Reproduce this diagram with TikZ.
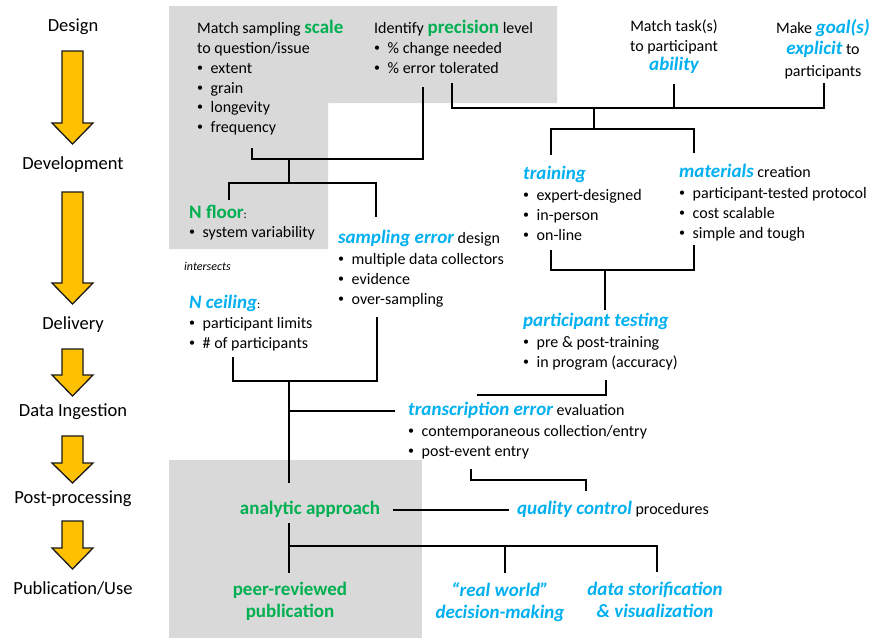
\documentclass[tikz,border=0pt]{standalone}
\usepackage{fontspec}
\setmainfont{Carlito}
\usepackage{xcolor}
\usepackage{graphicx}
\usepackage{tikz}
\usetikzlibrary{positioning,calc}

\definecolor{leafgreen}{HTML}{00B050}
\definecolor{skyblue}{HTML}{00B0F0}
\definecolor{panelgray}{HTML}{D9D9D9}
\definecolor{arrowgold}{HTML}{FFC000}

\newcommand{\keyg}[1]{\textcolor{leafgreen}{\fontsize{19}{19.5}\selectfont\bfseries #1}}
\newcommand{\keyb}[1]{\textcolor{skyblue}{\fontsize{19}{19.5}\selectfont\bfseries\itshape #1}}
\newcommand{\itm}{\makebox[13.5pt][l]{\raisebox{0.12em}{\scalebox{0.75}{\textbullet}}}}

\begin{document}
\begin{tikzpicture}[x=1pt, y=-1pt]
    \tikzstyle{stage} = [font=\fontsize{18.5}{22}\selectfont, anchor=base, inner sep=0pt]
    \tikzstyle{head} = [font=\fontsize{16}{19.5}\selectfont, anchor=base west, inner sep=0pt, text height=12pt, text depth=4pt]
    \tikzstyle{items} = [font=\fontsize{16}{19.8}\selectfont, align=left, inner sep=0pt, execute at begin node=\strut]
    \tikzstyle{ctr} = [font=\fontsize{16}{19.5}\selectfont, align=center, anchor=north, inner sep=0pt, execute at begin node=\strut]
    \tikzstyle{link} = [line width=1.5pt]
    \tikzstyle{stagearrow} = [draw=black!90, fill=arrowgold, line width=1.3pt, line join=miter]

    \fill[white] (0,0) rectangle (873,638);
    \useasboundingbox (0,0) rectangle (873,638);

    % gray panels
    \fill[panelgray] (169,6) -- (557,6) -- (557,103) -- (328,103) -- (328,249) -- (169,249) -- cycle;
    \fill[panelgray] (169,460) rectangle (422,638);

    % stages
    \node [stage] (design) at (73,31) {Design};
    \node [stage] (development) at (73,169) {Development};
    \node [stage] (delivery) at (73,329) {Delivery};
    \node [stage] (ingestion) at (73,416) {Data Ingestion};
    \node [stage] (postproc) at (73,503) {Post-processing};
    \node [stage] (publication) at (73,594) {Publication/Use};
    \foreach \t/\b/\e in {51/123/144, 192/283/304, 349/375/396, 436/463/483, 521/548/569}
        \draw [stagearrow] (62,\t) -- (83,\t) -- (83,\b) -- (93,\b) -- (72.5,\e) -- (52,\b) -- (62,\b) -- cycle;

    % design
    \node [head] (scale) at (197,33) {Match sampling \keyg{scale}};
    \node [items, below right=5pt and 0pt of scale.south west] (scalelist) {to question/issue\\\itm extent\\\itm grain\\\itm longevity\\\itm frequency};
    \node [head] (precision) at (374,33) {Identify \keyg{precision} level};
    \node [items, below right=5pt and 0pt of precision.south west] (precisionlist) {\itm \% change needed\\\itm \% error tolerated};
    \node [ctr] (task) at (674,20) {Match task(s)\\to participant\\\keyb{ability}};
    \node [ctr, font=\fontsize{16}{21.5}\selectfont] (goal) at (823,19) {Make \keyb{goal(s)}\\\keyb{explicit} to\\participants};

    % development
    \node [head] (training) at (523,179) {\keyb{training}};
    \node [items, below right=6pt and 0pt of training.south west] (traininglist) {\itm expert-designed\\\itm in-person\\\itm on-line};
    \node [head] (materials) at (679,177) {\keyb{materials} creation};
    \node [items, below right=6pt and 0pt of materials.south west] (materialslist) {\itm participant-tested protocol\\\itm cost scalable\\\itm simple and tough};
    \node [head] (nfloor) at (189,218) {\keyg{N floor}{\fontsize{12}{14}\selectfont:}};
    \node [items, below right=1pt and 0pt of nfloor.south west] (nfloorlist) {\itm system variability};
    \node [head] (sampling) at (338,243) {\keyb{sampling error} design};
    \node [items, below right=6pt and 0pt of sampling.south west] (samplinglist) {\itm multiple data collectors\\\itm evidence\\\itm over-sampling};
    \node [head, font=\fontsize{12}{14}\selectfont\itshape] (intersects) at (184,270) {intersects};

    % delivery
    \node [head] (nceiling) at (189,308) {\keyb{N ceiling}{\fontsize{12}{14}\selectfont:}};
    \node [items, below right=5pt and 0pt of nceiling.south west] (nceilinglist) {\itm participant limits\\\itm \# of participants};
    \node [head] (ptest) at (523,326) {\keyb{participant testing}};
    \node [items, below right=6pt and 0pt of ptest.south west] (ptestlist) {\itm pre \& post-training\\\itm in program (accuracy)};

    % ingestion
    \node [head] (transcr) at (408,415) {\keyb{transcription error} evaluation};
    \node [items, below right=6pt and 0pt of transcr.south west] (transcrlist) {\itm contemporaneous collection/entry\\\itm post-event entry};

    % post-processing and use
    \node [head, anchor=base] (analytic) at (310,514) {\keyg{analytic approach}};
    \node [head] (quality) at (517,514) {\keyb{quality control} procedures};
    \node [ctr, font=\fontsize{19}{22}\selectfont] (peer) at (290,582) {\keyg{peer-reviewed}\\\keyg{publication}};
    \node [ctr, font=\fontsize{19}{22}\selectfont] (realworld) at (500,582) {\keyb{``real world''}\\\keyb{decision-making}};
    \node [ctr, font=\fontsize{19}{22}\selectfont] (storify) at (655,582) {\keyb{data storification}\\\keyb{\& visualization}};

    % junctions and line ends
    \coordinate (forkA) at (289,159);
    \coordinate (forkB) at (289,183);
    \coordinate (forkC) at (594,108);
    \coordinate (forkD) at (594,129);
    \coordinate (forkE) at (605,270);
    \coordinate (forkF) at (289,381);
    \coordinate (forkG) at (289,546);
    \coordinate (scale-out) at (252,148);
    \coordinate (precision-outA) at (423,87);
    \coordinate (precision-outB) at (452,83);
    \coordinate (task-out) at (674,84);
    \coordinate (goal-out) at (824,83);
    \coordinate (nfloor-in) at (229,200);
    \coordinate (sampling-in) at (376,217);
    \coordinate (training-in) at (551,155);
    \coordinate (materials-in) at (694,153);
    \coordinate (training-out) at (551,250);
    \coordinate (materials-out) at (694,245);
    \coordinate (ptest-in) at (605,310);
    \coordinate (ptest-out) at (606,380);
    \coordinate (transcr-in) at (477,395);
    \coordinate (nceiling-out) at (233,357);
    \coordinate (sampling-out) at (377,317);
    \coordinate (transcr-out) at (471,469);
    \coordinate (quality-in) at (586,491);
    \coordinate (analytic-in) at (289,483);
    \coordinate (analytic-out) at (289,523);
    \coordinate (peer-in) at (289,573);
    \coordinate (realworld-in) at (505,573);
    \coordinate (storify-in) at (657,572);

    \draw [link] (scale-out) |- (forkA) -| (precision-outA);
    \draw [link] (forkA) -- (forkB);
    \draw [link] (nfloor-in) |- (forkB) -| (sampling-in);
    \draw [link] (precision-outB) |- (forkC) -| (goal-out);
    \draw [link] (task-out) -- (task-out |- forkC);
    \draw [link] (forkC) -- (forkD);
    \draw [link] (training-in) |- (forkD) -| (materials-in);
    \draw [link] (training-out) |- (forkE) -| (materials-out);
    \draw [link] (forkE) -- (ptest-in);
    \draw [link] (ptest-out) |- (transcr-in);
    \draw [link] (nceiling-out) |- (forkF) -| (sampling-out);
    \draw [link] (forkF) -- (analytic-in);
    \draw [link] (forkF |- transcr.west) -- ([xshift=-13pt]transcr.west);
    \draw [link] (transcr-out) -- ++(0,11) -| (quality-in);
    \draw [link] ([xshift=13pt]analytic.east) -- ([xshift=-8pt]quality.west);
    \draw [link] (analytic-out) -- (peer-in);
    \draw [link] (forkG) -| (storify-in);
    \draw [link] (realworld-in |- forkG) -- (realworld-in);
\end{tikzpicture}
\end{document}
